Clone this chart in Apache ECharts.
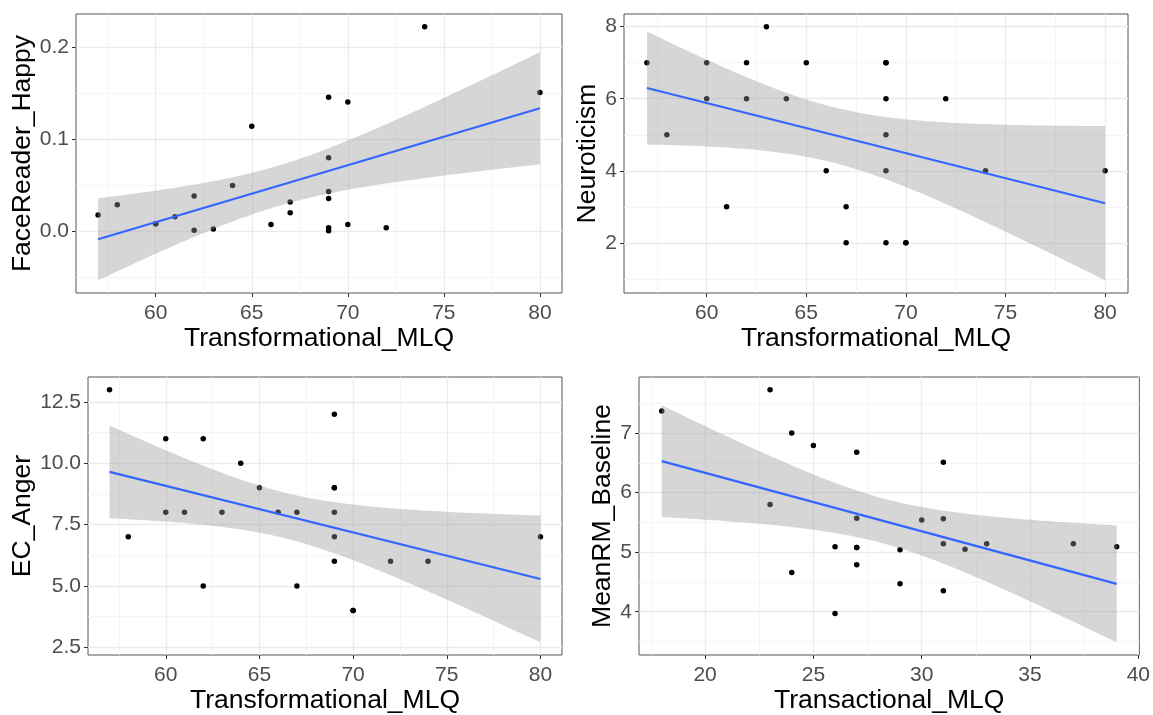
<!DOCTYPE html>
<html><head><meta charset="utf-8">
<script src="https://cdn.jsdelivr.net/npm/echarts@6/dist/echarts.min.js"></script>
<style>html,body{margin:0;padding:0;background:#fff}#c{width:1153px;height:715px}</style>
</head><body><div id="c"></div>
<script>
// ---- data ----
const transformationalMLQ = [57,58,60,60,61,62,62,63,64,65,66,67,67,69,69,69,69,69,69,70,70,72,74,80];
const faceReaderHappy = [0.0174,0.0286,0.008,0.008,0.0156,0.038,0.0007,0.0022,0.0496,0.114,0.0072,0.0315,0.0199,0.1457,0.0797,0.0431,0.0355,0.0036,0.0003,0.1406,0.0072,0.0036,0.2225,0.1507];
const neuroticism = [7,5,7,6,3,7,6,8,6,7,4,3,2,7,7,6,5,4,2,2,2,6,4,4];
const ecAnger = [13,7,11,8,8,11,5,8,10,9,8,8,5,12,9,9,8,7,6,4,4,6,6,7];
const transactionalMLQ = [18,23,23,24,24,25,26,26,27,27,27,27,27,29,29,30,31,31,31,31,32,33,37,39];
const meanRMBaseline = [7.37,7.73,5.80,7.00,4.66,6.79,5.09,3.97,6.68,5.57,5.08,5.08,4.79,5.04,4.47,5.54,6.51,5.56,5.14,4.35,5.05,5.14,5.14,5.09];

const xTicksTransformational = [60,65,70,75,80];
const xMinorTransformational = [57.5,62.5,67.5,72.5,77.5];
const xTicksTransactional = [20,25,30,35,40];
const xMinorTransactional = [17.5,22.5,27.5,32.5,37.5];
const yTicksHappy = [0,0.1,0.2];
const yMinorHappy = [-0.05,0.05,0.15];
const yTicksNeuro = [2,4,6,8];
const yMinorNeuro = [1,3,5,7];
const yTicksAnger = [2.5,5,7.5,10,12.5];
const yMinorAnger = [3.75,6.25,8.75,11.25];
const yTicksRM = [4,5,6,7];
const yMinorRM = [3.5,4.5,5.5,6.5,7.5];

// ---- linear model + 95% CI (like geom_smooth(method = "lm")) ----
const tTable = {18:2.1009,19:2.0930,20:2.0860,21:2.0796,22:2.0739,23:2.0687,24:2.0639,25:2.0595,26:2.0555,27:2.0518,28:2.0484};
function fitLm(xs, ys){
  const n = xs.length;
  const mx = xs.reduce((a,b)=>a+b,0)/n, my = ys.reduce((a,b)=>a+b,0)/n;
  let sxx=0, sxy=0;
  for(let i=0;i<n;i++){ sxx += (xs[i]-mx)*(xs[i]-mx); sxy += (xs[i]-mx)*(ys[i]-my); }
  const b = sxy/sxx, a = my - b*mx;
  let sse=0; for(let i=0;i<n;i++){ const r = ys[i]-(a+b*xs[i]); sse += r*r; }
  const s = Math.sqrt(sse/(n-2));
  const t = tTable[n-2] || 2.0;
  const xmin = Math.min(...xs), xmax = Math.max(...xs);
  const band = [];
  const K = 80;
  for(let k=0;k<=K;k++){
    const x = xmin + (xmax-xmin)*k/K;
    const f = a + b*x;
    const se = s*Math.sqrt(1/n + (x-mx)*(x-mx)/sxx);
    band.push({x:x, lo:f-t*se, hi:f+t*se});
  }
  return {a,b,xmin,xmax,band};
}
function expand(lo, hi){ const r = hi-lo; return [lo-0.05*r, hi+0.05*r]; }

const FONT = 'Liberation Sans, Arial, sans-serif';
const panels = [
  {xs:transformationalMLQ, ys:faceReaderHappy, xName:'Transformational_MLQ', yName:'FaceReader_Happy',
   xt:xTicksTransformational, xm:xMinorTransformational, yt:yTicksHappy, ym:yMinorHappy, yfmt:v=>v.toFixed(1),
   grid:{left:76, top:14, width:486, height:279}, yGap:38},
  {xs:transformationalMLQ, ys:neuroticism, xName:'Transformational_MLQ', yName:'Neuroticism',
   xt:xTicksTransformational, xm:xMinorTransformational, yt:yTicksNeuro, ym:yMinorNeuro, yfmt:v=>String(v),
   grid:{left:624, top:14, width:504, height:279}, yGap:22},
  {xs:transformationalMLQ, ys:ecAnger, xName:'Transformational_MLQ', yName:'EC_Anger',
   xt:xTicksTransformational, xm:xMinorTransformational, yt:yTicksAnger, ym:yMinorAnger, yfmt:v=>v.toFixed(1),
   grid:{left:88, top:377, width:474, height:280}, yGap:50},
  {xs:transactionalMLQ, ys:meanRMBaseline, xName:'Transactional_MLQ', yName:'MeanRM_Baseline',
   xt:xTicksTransactional, xm:xMinorTransactional, yt:yTicksRM, ym:yMinorRM, yfmt:v=>String(v),
   grid:{left:639, top:377, width:504, height:280}, yGap:22}
];

const grids=[], xAxes=[], yAxes=[], series=[];
panels.forEach((p, i) => {
  const fit = fitLm(p.xs, p.ys);
  const xr = expand(Math.min(...p.xs), Math.max(...p.xs));
  const yLo = Math.min(Math.min(...p.ys), ...fit.band.map(d=>d.lo));
  const yHi = Math.max(Math.max(...p.ys), ...fit.band.map(d=>d.hi));
  const yr = expand(yLo, yHi);
  grids.push(Object.assign({show:true, borderColor:'#555', borderWidth:1, backgroundColor:'#fff'}, p.grid));
  const xa = 2*i, ya = 2*i;
  xAxes.push({gridIndex:i, type:'value', position:'bottom', min:xr[0], max:xr[1],
    name:p.xName, nameLocation:'middle', nameGap:32,
    nameTextStyle:{fontSize:26.5, color:'#000', fontFamily:FONT},
    axisLine:{show:false, onZero:false},
    axisTick:{show:true, length:4, lineStyle:{color:'#333', width:1}, customValues:p.xt},
    axisLabel:{customValues:p.xt, fontSize:21, color:'#4d4d4d', margin:10, fontFamily:FONT},
    splitLine:{show:true, lineStyle:{color:'#EBEBEB', width:1.3}}});
  xAxes.push({gridIndex:i, type:'value', position:'bottom', min:xr[0], max:xr[1],
    axisLine:{show:false, onZero:false}, axisTick:{show:false, customValues:p.xm}, axisLabel:{show:false},
    splitLine:{show:true, lineStyle:{color:'#F3F3F3', width:0.8}}});
  yAxes.push({gridIndex:i, type:'value', position:'left', min:yr[0], max:yr[1],
    name:p.yName, nameLocation:'middle', nameGap:p.yGap,
    nameTextStyle:{fontSize:26.5, color:'#000', fontFamily:FONT},
    axisLine:{show:false, onZero:false},
    axisTick:{show:true, length:4, lineStyle:{color:'#333', width:1}, customValues:p.yt},
    axisLabel:{customValues:p.yt, fontSize:21, color:'#4d4d4d', margin:7, fontFamily:FONT, formatter:p.yfmt},
    splitLine:{show:true, lineStyle:{color:'#EBEBEB', width:1.3}}});
  yAxes.push({gridIndex:i, type:'value', position:'left', min:yr[0], max:yr[1],
    axisLine:{show:false, onZero:false}, axisTick:{show:false, customValues:p.ym}, axisLabel:{show:false},
    splitLine:{show:true, lineStyle:{color:'#F3F3F3', width:0.8}}});

  series.push({type:'scatter', xAxisIndex:xa, yAxisIndex:ya, z:2, symbolSize:5.5, silent:true,
    itemStyle:{color:'#000', opacity:1}, data:p.xs.map((x,k)=>[x, p.ys[k]])});
  const band = fit.band;
  series.push({type:'custom', xAxisIndex:xa, yAxisIndex:ya, z:3, silent:true,
    data: band.map(d=>[d.x, d.lo, d.hi]), encode:{x:0, y:[1,2]},
    renderItem:function(params, api){
      if(params.dataIndex !== 0) return null;
      const pts=[];
      for(let k=0;k<band.length;k++) pts.push(api.coord([band[k].x, band[k].hi]));
      for(let k=band.length-1;k>=0;k--) pts.push(api.coord([band[k].x, band[k].lo]));
      return {type:'polygon', shape:{points:pts}, style:{fill:'rgba(153,153,153,0.4)'}};
    }});
  series.push({type:'line', xAxisIndex:xa, yAxisIndex:ya, z:4, silent:true, showSymbol:false,
    lineStyle:{color:'#3366FF', width:2.2}, data:[[fit.xmin, fit.a+fit.b*fit.xmin],[fit.xmax, fit.a+fit.b*fit.xmax]]});
});

const chart = echarts.init(document.getElementById('c'), null, {renderer:'canvas'});
chart.setOption({animation:false, backgroundColor:'#fff', grid:grids, xAxis:xAxes, yAxis:yAxes, series:series});
</script>
</body></html>
